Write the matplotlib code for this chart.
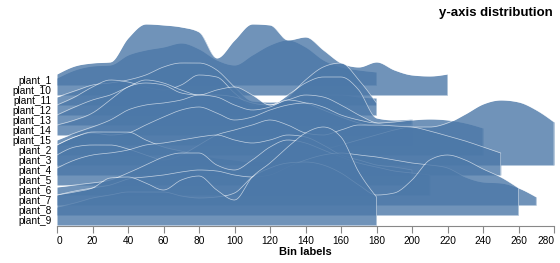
import numpy as np
import matplotlib.pyplot as plt

plt.rcParams['font.family'] = ['Liberation Sans', 'DejaVu Sans']

# rows, top to bottom (as on the y axis)
plants = ['plant_1', 'plant_10', 'plant_11', 'plant_12', 'plant_13', 'plant_14',
          'plant_15', 'plant_2', 'plant_3', 'plant_4', 'plant_5', 'plant_6',
          'plant_7', 'plant_8', 'plant_9']

bin_step = 10

# values per bin (0, 10, 20, ...)
plant_1 = [7, 15, 19, 20, 30, 35, 38, 42, 36, 25, 20, 30, 40, 45, 38, 25, 18, 15, 13]
plant_10 = [21, 29, 32, 33, 57, 71, 70, 68, 63, 37, 55, 71, 70, 55, 58, 45, 32, 28, 33, 25, 20, 19, 21]
plant_11 = [8, 14, 20, 22, 25, 30, 38, 42, 42, 35, 18, 4, 3, 4, 8, 10, 10, 8, 7]
plant_12 = [10, 18, 28, 35, 33, 28, 25, 30, 40, 38, 22, 10, 10, 18, 35, 48, 52, 35, 12]
plant_13 = [10, 18, 25, 30, 38, 45, 42, 35, 30, 30, 28, 22, 20, 30, 42, 48, 48, 35, 7, 5, 6]
plant_14 = [10, 15, 22, 35, 48, 52, 50, 42, 40, 45, 48, 40, 30, 35, 40, 38, 30, 20, 12, 10, 10]
plant_15 = [5, 12, 18, 25, 35, 40, 42, 45, 50, 48, 40, 35, 38, 45, 42, 35, 28, 22, 18, 15, 12]
plant_2 = [10, 18, 22, 20, 22, 30, 38, 45, 48, 42, 35, 38, 45, 50, 52, 48, 40, 35, 32, 33, 35, 36, 35, 32, 27]
plant_3 = [20, 28, 33, 33, 33, 25, 18, 14, 10, 7, 5, 3, 3, 5, 10, 15, 20, 25, 30, 35, 38, 38, 42, 51, 61, 65, 63, 55, 43]
plant_4 = [20, 28, 30, 30, 26, 20, 15, 20, 30, 40, 45, 50, 55, 50, 42, 40, 45, 50, 50, 49, 48, 44, 39, 34, 28, 22]
plant_5 = [17, 25, 30, 32, 35, 40, 42, 45, 48, 50, 45, 42, 45, 50, 48, 40, 30, 25, 20, 18, 15]
plant_6 = [8, 10, 12, 15, 22, 30, 38, 42, 42, 30, 25, 35, 48, 55, 52, 45, 38, 32, 28, 24, 22, 20]
plant_7 = [10, 14, 17, 20, 26, 28, 30, 33, 35, 34, 30, 28, 30, 38, 45, 50, 52, 50, 48, 45, 42, 40, 37, 28, 23, 22, 17, 8]
plant_8 = [8, 12, 17, 20, 23, 23, 23, 19, 17, 18, 22, 38, 47, 52, 53, 50, 42, 30, 20, 22, 35, 55, 60, 55, 46, 38, 27]
plant_9 = [30, 33, 37, 47, 48, 42, 35, 45, 49, 35, 25, 48, 62, 78, 92, 98, 88, 53, 28]

values = [plant_1, plant_10, plant_11, plant_12, plant_13, plant_14, plant_15,
          plant_2, plant_3, plant_4, plant_5, plant_6, plant_7, plant_8, plant_9]

x_ticks = list(range(0, 281, 20))

FILL = '#4c78a8'
ROW = 10  # row step, same units as the values


def monotone(x, y, n=12):
	# d3 curveMonotoneX
	x, y = np.asarray(x, float), np.asarray(y, float)
	h = np.diff(x)
	s = np.diff(y) / h
	t = np.zeros(len(x))
	for i in range(1, len(x) - 1):
		p = (s[i - 1] * h[i] + s[i] * h[i - 1]) / (h[i - 1] + h[i])
		t[i] = (np.sign(s[i - 1]) + np.sign(s[i])) * min(abs(s[i - 1]), abs(s[i]), 0.5 * abs(p))
	t[0] = (3 * s[0] - t[1]) / 2
	t[-1] = (3 * s[-1] - t[-2]) / 2
	xs, ys = [], []
	for i in range(len(x) - 1):
		u = np.linspace(0, 1, n, endpoint=False)
		h00 = 2 * u**3 - 3 * u**2 + 1
		h10 = u**3 - 2 * u**2 + u
		h01 = -2 * u**3 + 3 * u**2
		h11 = u**3 - u**2
		xs.append(x[i] + u * h[i])
		ys.append(h00 * y[i] + h10 * h[i] * t[i] + h01 * y[i + 1] + h11 * h[i] * t[i + 1])
	xs.append([x[-1]])
	ys.append([y[-1]])
	return np.concatenate(xs), np.concatenate(ys)


fig = plt.figure(figsize=(5.6, 2.63), dpi=100)
ax = fig.add_axes([57 / 560, 37 / 263, 497 / 560, 226 / 263])

n_rows = len(plants)
baselines = [85 + ROW * i for i in range(n_rows)]

for i, (name, vals) in enumerate(zip(plants, values)):
	bins = np.arange(len(vals)) * bin_step
	xf, yf = monotone(bins, vals)
	base = baselines[i]
	ax.fill_between(xf, base, base - yf, color=FILL, alpha=0.8, lw=0, zorder=2 + 2 * i)
	# outline: top curve and the closing edge on the right
	ex = np.concatenate([xf, [xf[-1]]])
	ey = np.concatenate([base - yf, [base]])
	ax.plot(ex, ey, color='white', lw=0.5, alpha=0.65, zorder=3 + 2 * i)

ax.set_xlim(0, 280)
ax.set_ylim(226, 0)
ax.set_xticks(x_ticks)
ax.set_xticklabels([str(v) for v in x_ticks], fontsize=7.3)
lbls = ax.get_xticklabels()
lbls[0].set_ha('left')
lbls[-1].set_ha('right')
ax.set_yticks([b - ROW / 2 for b in baselines])
ax.set_yticklabels(plants, fontsize=7.3)
ax.tick_params(axis='y', length=0, pad=4)
ax.tick_params(axis='x', length=5, width=0.8, color='#888888', pad=2)
for side in ['top', 'right', 'left']:
	ax.spines[side].set_visible(False)
ax.spines['bottom'].set_color('#888888')
ax.spines['bottom'].set_linewidth(0.8)
ax.patch.set_alpha(0)

fig.text(553 / 560, 1 - 13 / 263, 'y-axis distribution', ha='right', va='center',
	fontsize=9.5, fontweight='bold')
fig.text(305 / 560, 1 - 252 / 263, 'Bin labels', ha='center', va='center',
	fontsize=8, fontweight='bold')

fig.savefig('out.png', dpi=100)
